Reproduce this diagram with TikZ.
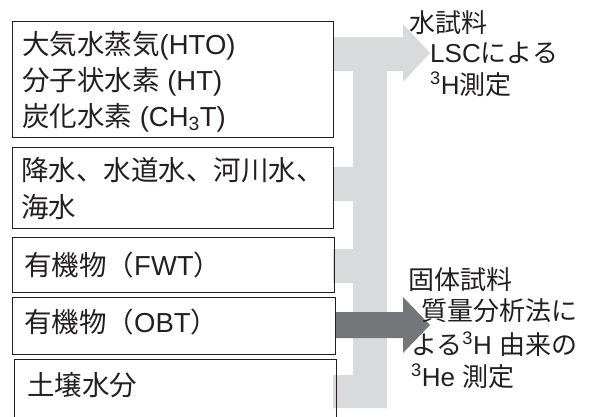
\documentclass[tikz,border=0pt]{standalone}
\usepackage{fontspec}
\setmainfont{Liberation Sans}
\newfontfamily\jp{Noto Sans CJK JP}
\definecolor{lightg}{HTML}{D9DADC}
\definecolor{darkg}{HTML}{75767A}
\definecolor{ink}{HTML}{231F20}
\begin{document}
\begin{tikzpicture}[x=1pt,y=-1pt,
  box/.style={draw=ink, line width=1.3pt, inner sep=0pt, anchor=north west},
  txt/.style={anchor=base west, inner sep=0pt, text=ink, font=\fontsize{26}{30}\selectfont},
  ltxt/.style={anchor=base west, inner sep=0pt, text=ink, font=\fontsize{27.5}{32}\selectfont}]
\useasboundingbox (0,0) rectangle (592,416);
% light gray collector with arrow
\fill[lightg] (333,37) -- (403,37) -- (403,24) -- (430,53) -- (403,82) -- (403,71)
  -- (387,71) -- (387,408) -- (333,408) -- (333,375) -- (353,375) -- (353,283)
  -- (333,283) -- (333,249) -- (353,249) -- (353,201) -- (333,201) -- (333,167)
  -- (353,167) -- (353,71) -- (333,71) -- cycle;
% dark arrow
\fill[darkg] (335,312) -- (403,312) -- (403,297) -- (430,325) -- (403,353) -- (403,338)
  -- (335,338) -- cycle;
% boxes
\node[box, minimum width=321pt, minimum height=116pt] (b1) at (12,21) {};
\node[box, minimum width=321pt, minimum height=81pt] (b2) at (12,147) {};
\node[box, minimum width=322pt, minimum height=55pt] (b3) at (12,237) {};
\node[box, minimum width=323pt, minimum height=57pt] (b4) at (12,297) {};
\node[box, minimum width=322pt, minimum height=80pt] (b5) at (14,359) {};
% box texts
\node[ltxt] (t1a) at (22,54) {{\jp 大気水蒸気}(HTO)};
\node[ltxt] (t1b) at (22,90) {{\jp 分子状水素} (HT)};
\node[ltxt] (t1c) at (22,126) {{\jp 炭化水素} (CH\textsubscript{3}T)};
\node[ltxt] (t2a) at (21,180.5) {\jp 降水、水道水、河川水、};
\node[ltxt] (t2b) at (21,217.5) {\jp 海水};
\node[ltxt] (t3) at (24,275.5) {{\jp 有機物（}FWT{\jp ）}};
\node[ltxt] (t4) at (24,332) {{\jp 有機物（}OBT{\jp ）}};
\node[ltxt] (t5) at (27,395.5) {\jp 土壌水分};
% right texts
\node[txt] (r1a) at (409,32) {\jp 水試料};
\node[txt] (r1b) at (430,62) {LSC{\jp による}};
\node[txt] (r1c) at (430,94) {\textsuperscript{3}H{\jp 測定}};
\node[txt] (r2a) at (408,289) {\jp 固体試料};
\node[txt] (r2b) at (421,320) {\jp 質量分析法に};
\node[txt] (r2c) at (411,354) {{\jp よる}\textsuperscript{3}H {\jp 由来の}};
\node[txt] (r2d) at (411,386) {\textsuperscript{3}He {\jp 測定}};
\end{tikzpicture}
\end{document}
